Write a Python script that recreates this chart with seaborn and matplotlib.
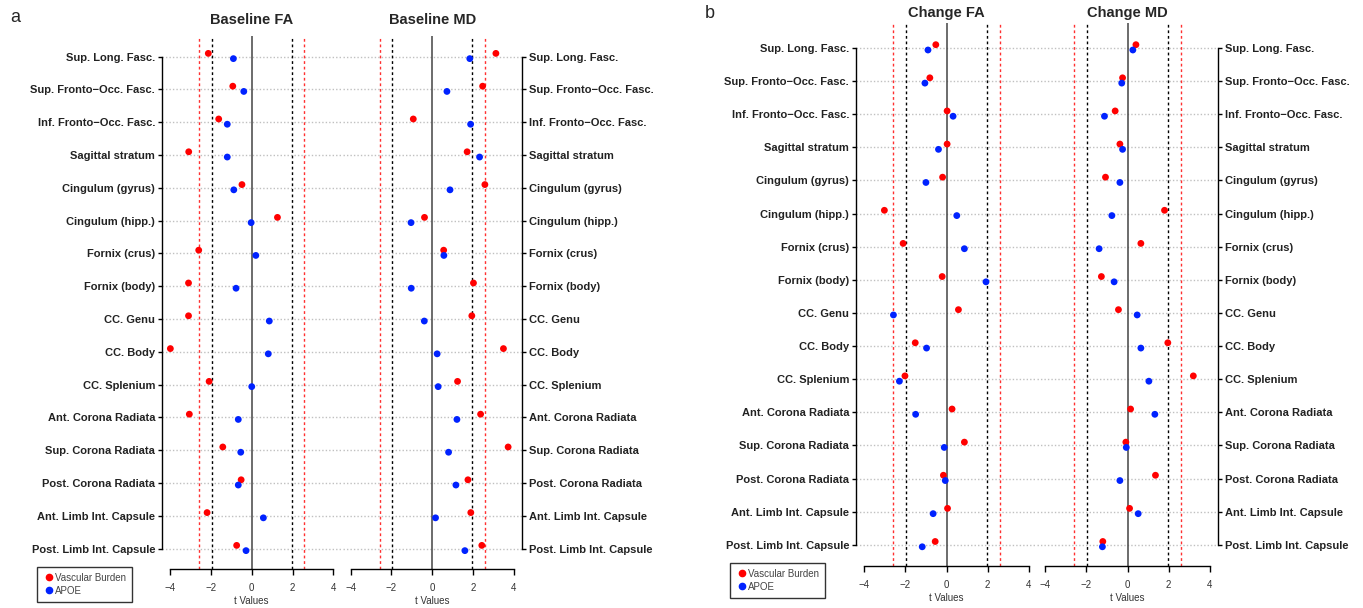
import numpy as np
import pandas as pd
import seaborn as sns
import matplotlib.pyplot as plt
from matplotlib.lines import Line2D

# tract names, top to bottom
tracts = [
    "Sup. Long. Fasc.",
    "Sup. Fronto\u2212Occ. Fasc.",
    "Inf. Fronto\u2212Occ. Fasc.",
    "Sagittal stratum",
    "Cingulum (gyrus)",
    "Cingulum (hipp.)",
    "Fornix (crus)",
    "Fornix (body)",
    "CC. Genu",
    "CC. Body",
    "CC. Splenium",
    "Ant. Corona Radiata",
    "Sup. Corona Radiata",
    "Post. Corona Radiata",
    "Ant. Limb Int. Capsule",
    "Post. Limb Int. Capsule",
]

# t values
base_fa_vasc = [-2.13, -0.93, -1.62, -3.09, -0.48, 1.26, -2.60, -3.10,
                -3.10, -3.99, -2.09, -3.06, -1.42, -0.52, -2.19, -0.74]
base_fa_apoe = [-0.90, -0.39, -1.20, -1.20, -0.88, -0.03, 0.20, -0.77,
                0.86, 0.81, 0.00, -0.66, -0.54, -0.66, 0.57, -0.28]
base_md_vasc = [3.12, 2.47, -0.93, 1.71, 2.58, -0.38, 0.56, 2.02,
                1.94, 3.49, 1.24, 2.37, 3.72, 1.75, 1.89, 2.43]
base_md_apoe = [1.84, 0.72, 1.88, 2.32, 0.87, -1.04, 0.57, -1.03,
                -0.39, 0.24, 0.29, 1.21, 0.80, 1.16, 0.16, 1.60]
chg_fa_vasc = [-0.52, -0.81, 0.03, 0.03, -0.19, -3.02, -2.11, -0.21,
               0.58, -1.52, -2.02, 0.27, 0.87, -0.15, 0.05, -0.55]
chg_fa_apoe = [-0.90, -1.05, 0.32, -0.39, -1.00, 0.50, 0.87, 1.92,
               -2.58, -0.97, -2.29, -1.50, -0.11, -0.06, -0.65, -1.18]
chg_md_vasc = [0.41, -0.24, -0.60, -0.37, -1.07, 1.80, 0.65, -1.27,
               -0.44, 1.96, 3.20, 0.15, -0.08, 1.36, 0.10, -1.20]
chg_md_apoe = [0.26, -0.28, -1.12, -0.24, -0.37, -0.76, -1.38, -0.65,
               0.47, 0.65, 1.04, 1.33, -0.06, -0.37, 0.52, -1.22]

groups = ["Vascular Burden", "APOE"]
colors = {"Vascular Burden": "#ff0000", "APOE": "#0022ff"}
offsets = {"Vascular Burden": -0.10, "APOE": 0.06}

sns.set_style("white")
plt.rcParams['font.family'] = ['Liberation Sans', 'DejaVu Sans']

W, H = 1363, 608
fig = plt.figure(figsize=(W / 100, H / 100), dpi=100)


def make_df(vasc, apoe):
    rows = []
    for i, name in enumerate(tracts):
        rows.append({"tract": name, "pos": i + offsets["Vascular Burden"],
                     "t": vasc[i], "Group": "Vascular Burden"})
        rows.append({"tract": name, "pos": i + offsets["APOE"],
                     "t": apoe[i], "Group": "APOE"})
    return pd.DataFrame(rows)


def panel(l, r, t, b, ylim, vasc, apoe, title, side, tpad):
    ax = fig.add_axes([l / W, 1 - b / H, (r - l) / W, (b - t) / H])
    ax.set_xlim(-4.4, 4.4)
    ax.set_ylim(*ylim)

    ax.set_yticks(range(len(tracts)))
    ax.set_yticklabels(tracts, fontsize=8, fontweight="bold", color="#222222")
    ax.yaxis.grid(True, linestyle=(0, (1, 1.5)), color="#c0c0c0", lw=1)
    ax.xaxis.grid(False)

    ax.axvline(0, color="#444444", lw=1.1, zorder=1)
    for v in (-1.96, 1.96):
        ax.axvline(v, color="black", ls=(0, (2, 2)), lw=1, zorder=1)
    for v in (-2.58, 2.58):
        ax.axvline(v, color="#ff3030", ls=(0, (2, 2)), lw=1, zorder=1)

    df = make_df(vasc, apoe)
    sns.scatterplot(data=df, x="t", y="pos", hue="Group", palette=colors,
                    hue_order=groups, s=24, linewidth=0, legend=False,
                    ax=ax, zorder=3)

    ax.set_xticks([-4, -2, 0, 2, 4])
    ax.set_xticklabels(["\u22124", "\u22122", "0", "2", "4"], fontsize=7,
                       color="#333333")
    ax.set_xlabel("t Values", fontsize=7, color="#333333", labelpad=2)
    ax.set_ylabel("")

    for s in ax.spines.values():
        s.set_visible(False)
    ax.spines["bottom"].set_visible(True)
    ax.spines["bottom"].set_bounds(-4, 4)
    ax.spines["bottom"].set_color("black")
    ax.spines["bottom"].set_linewidth(1)
    ax.spines[side].set_visible(True)
    ax.spines[side].set_bounds(0, len(tracts) - 1)
    ax.spines[side].set_color("black")
    ax.spines[side].set_linewidth(1)
    if side == "right":
        ax.yaxis.tick_right()
    else:
        ax.yaxis.tick_left()
    ax.tick_params(axis="y", length=3, width=1, pad=2, color="black")
    ax.tick_params(axis="x", length=4, width=1, pad=6, color="black",
                   bottom=True)
    ax.set_title(title, fontsize=10.5, fontweight="bold", pad=tpad)
    return ax


ya = (15.62, -0.63)
yb = (15.64, -0.755)
panel(162, 341.5, 36, 569, ya, base_fa_vasc, base_fa_apoe, "Baseline FA", "left", 9)
panel(342.5, 522, 36, 569, ya, base_md_vasc, base_md_apoe, "Baseline MD", "right", 9)
panel(856, 1037, 23, 566, yb, chg_fa_vasc, chg_fa_apoe, "Change FA", "left", 4)
panel(1037, 1218, 23, 566, yb, chg_md_vasc, chg_md_apoe, "Change MD", "right", 4)

fig.text(10 / W, 1 - 18 / H, "a", fontsize=13, va="center", ha="left")
fig.text(705 / W, 1 - 14 / H, "b", fontsize=13, va="center", ha="left")

handles = [Line2D([], [], marker="o", ls="", color=colors[g], markersize=4.5,
                  label=g) for g in groups]
for x0, y0 in ((37, 567), (730, 563)):
    leg = fig.legend(handles=handles, loc="upper left",
                     bbox_to_anchor=(x0 / W, 1 - y0 / H),
                     bbox_transform=fig.transFigure, frameon=True,
                     fancybox=False, edgecolor="black", fontsize=7,
                     handletextpad=0.1, borderpad=0.6, labelspacing=0.3,
                     handlelength=1.2, borderaxespad=0)
    leg.get_frame().set_linewidth(1)
    for txt in leg.get_texts():
        txt.set_color("#444444")

fig.savefig("out.png", dpi=100)
